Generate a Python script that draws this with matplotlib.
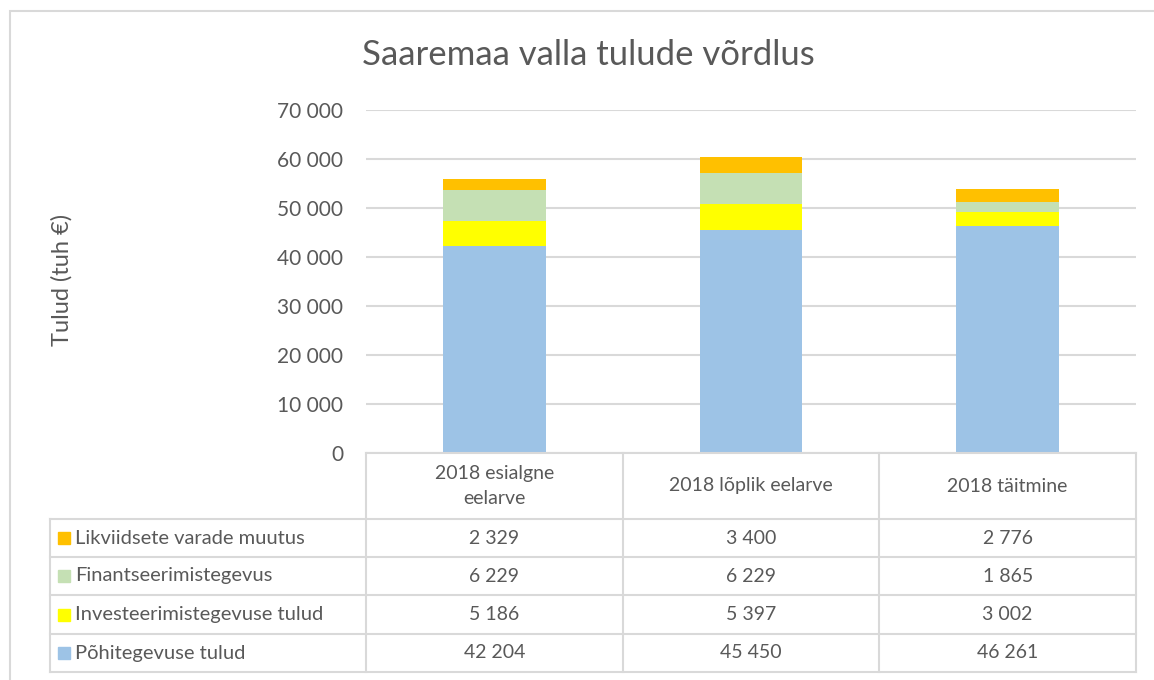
import matplotlib.pyplot as plt
from matplotlib.patches import Rectangle

plt.rcParams['font.family'] = ['Lato', 'DejaVu Sans']

# andmed
kategooriad = ['2018 esialgne\neelarve', '2018 lõplik eelarve', '2018 täitmine']
seeriad = ['Põhitegevuse tulud', 'Investeerimistegevuse tulud',
           'Finantseerimistegevus', 'Likviidsete varade muutus']
pohitegevus = [42204, 45450, 46261]
investeerimine = [5186, 5397, 3002]
finantseerimine = [6229, 6229, 1865]
likviidsed = [2329, 3400, 2776]
varvid = ['#9DC3E6', '#FFFF00', '#C5E0B4', '#FFC000']
y_ticks = [0, 10000, 20000, 30000, 40000, 50000, 60000, 70000]

vaartused = [pohitegevus, investeerimine, finantseerimine, likviidsed]
tekst = '#595959'
joon = '#D9D9D9'

W, H = 1154, 680
fig = plt.figure(figsize=(W / 100, H / 100), dpi=100)

# välimine raam
fig.patches.append(Rectangle((10 / W, -0.05), 1.2, 1 - 11 / H + 0.05,
                             transform=fig.transFigure, fill=False,
                             edgecolor=joon, linewidth=1.5))

x0, x1, ytop, ybot = 366, 1136, 110, 453
ax = fig.add_axes([x0 / W, 1 - ybot / H, (x1 - x0) / W, (ybot - ytop) / H])
ax.set_xlim(-0.5, 2.5)
ax.set_ylim(0, 70000)

pos = range(len(kategooriad))
alus = [0, 0, 0]
for vals, c in zip(vaartused, varvid):
    ax.bar(pos, vals, width=0.4, bottom=alus, color=c, zorder=3)
    alus = [a + v for a, v in zip(alus, vals)]

ax.set_yticks(y_ticks)
ax.set_yticklabels([f'{t:,}'.replace(',', ' ') for t in y_ticks],
                   fontsize=15, color=tekst)
ax.tick_params(axis='y', length=0, pad=16.5)
ax.set_xticks([])
ax.grid(axis='y', color=joon, linewidth=1.5, zorder=0)
for s in ax.spines.values():
    s.set_visible(False)

fig.text(588 / W, 1 - 55 / H, 'Saaremaa valla tulude võrdlus',
         ha='center', va='center', fontsize=25, color=tekst)
fig.text(62 / W, 1 - 280 / H, 'Tulud (tuh €)', rotation=90,
         ha='center', va='center', fontsize=17, color=tekst)

# andmetabel
tax = fig.add_axes([0, 0, 1, 1])
tax.set_xlim(0, W)
tax.set_ylim(H, 0)
tax.axis('off')

lx = 50
veerg = (x1 - x0) / len(kategooriad)
servad = [x0 + i * veerg for i in range(len(kategooriad) + 1)]
read = [453, 519, 557, 595, 634, 672]

for xs in servad:
    tax.plot([xs, xs], [read[0], read[-1]], color=joon, lw=1.5)
tax.plot([lx, lx], [read[1], read[-1]], color=joon, lw=1.5)
tax.plot([x0, x1], [read[0], read[0]], color=joon, lw=1.5)
for r in read[1:]:
    tax.plot([lx, x1], [r, r], color=joon, lw=1.5)

for i, k in enumerate(kategooriad):
    tax.text((servad[i] + servad[i + 1]) / 2, (read[0] + read[1]) / 2, k,
             ha='center', va='center', fontsize=14, color=tekst,
             linespacing=1.55)

# read ülalt alla: viimane seeria esimesena
for j, si in enumerate(reversed(range(len(seeriad)))):
    yc = (read[j + 1] + read[j + 2]) / 2
    tax.add_patch(Rectangle((58, yc - 6), 12, 12, color=varvid[si]))
    tax.text(75, yc, seeriad[si], ha='left', va='center',
             fontsize=14.5, color=tekst)
    for i in range(len(kategooriad)):
        v = vaartused[si][i]
        tax.text((servad[i] + servad[i + 1]) / 2, yc,
                 f'{v:,}'.replace(',', ' '), ha='center', va='center',
                 fontsize=14, color=tekst)

fig.savefig('out.png', dpi=100)
